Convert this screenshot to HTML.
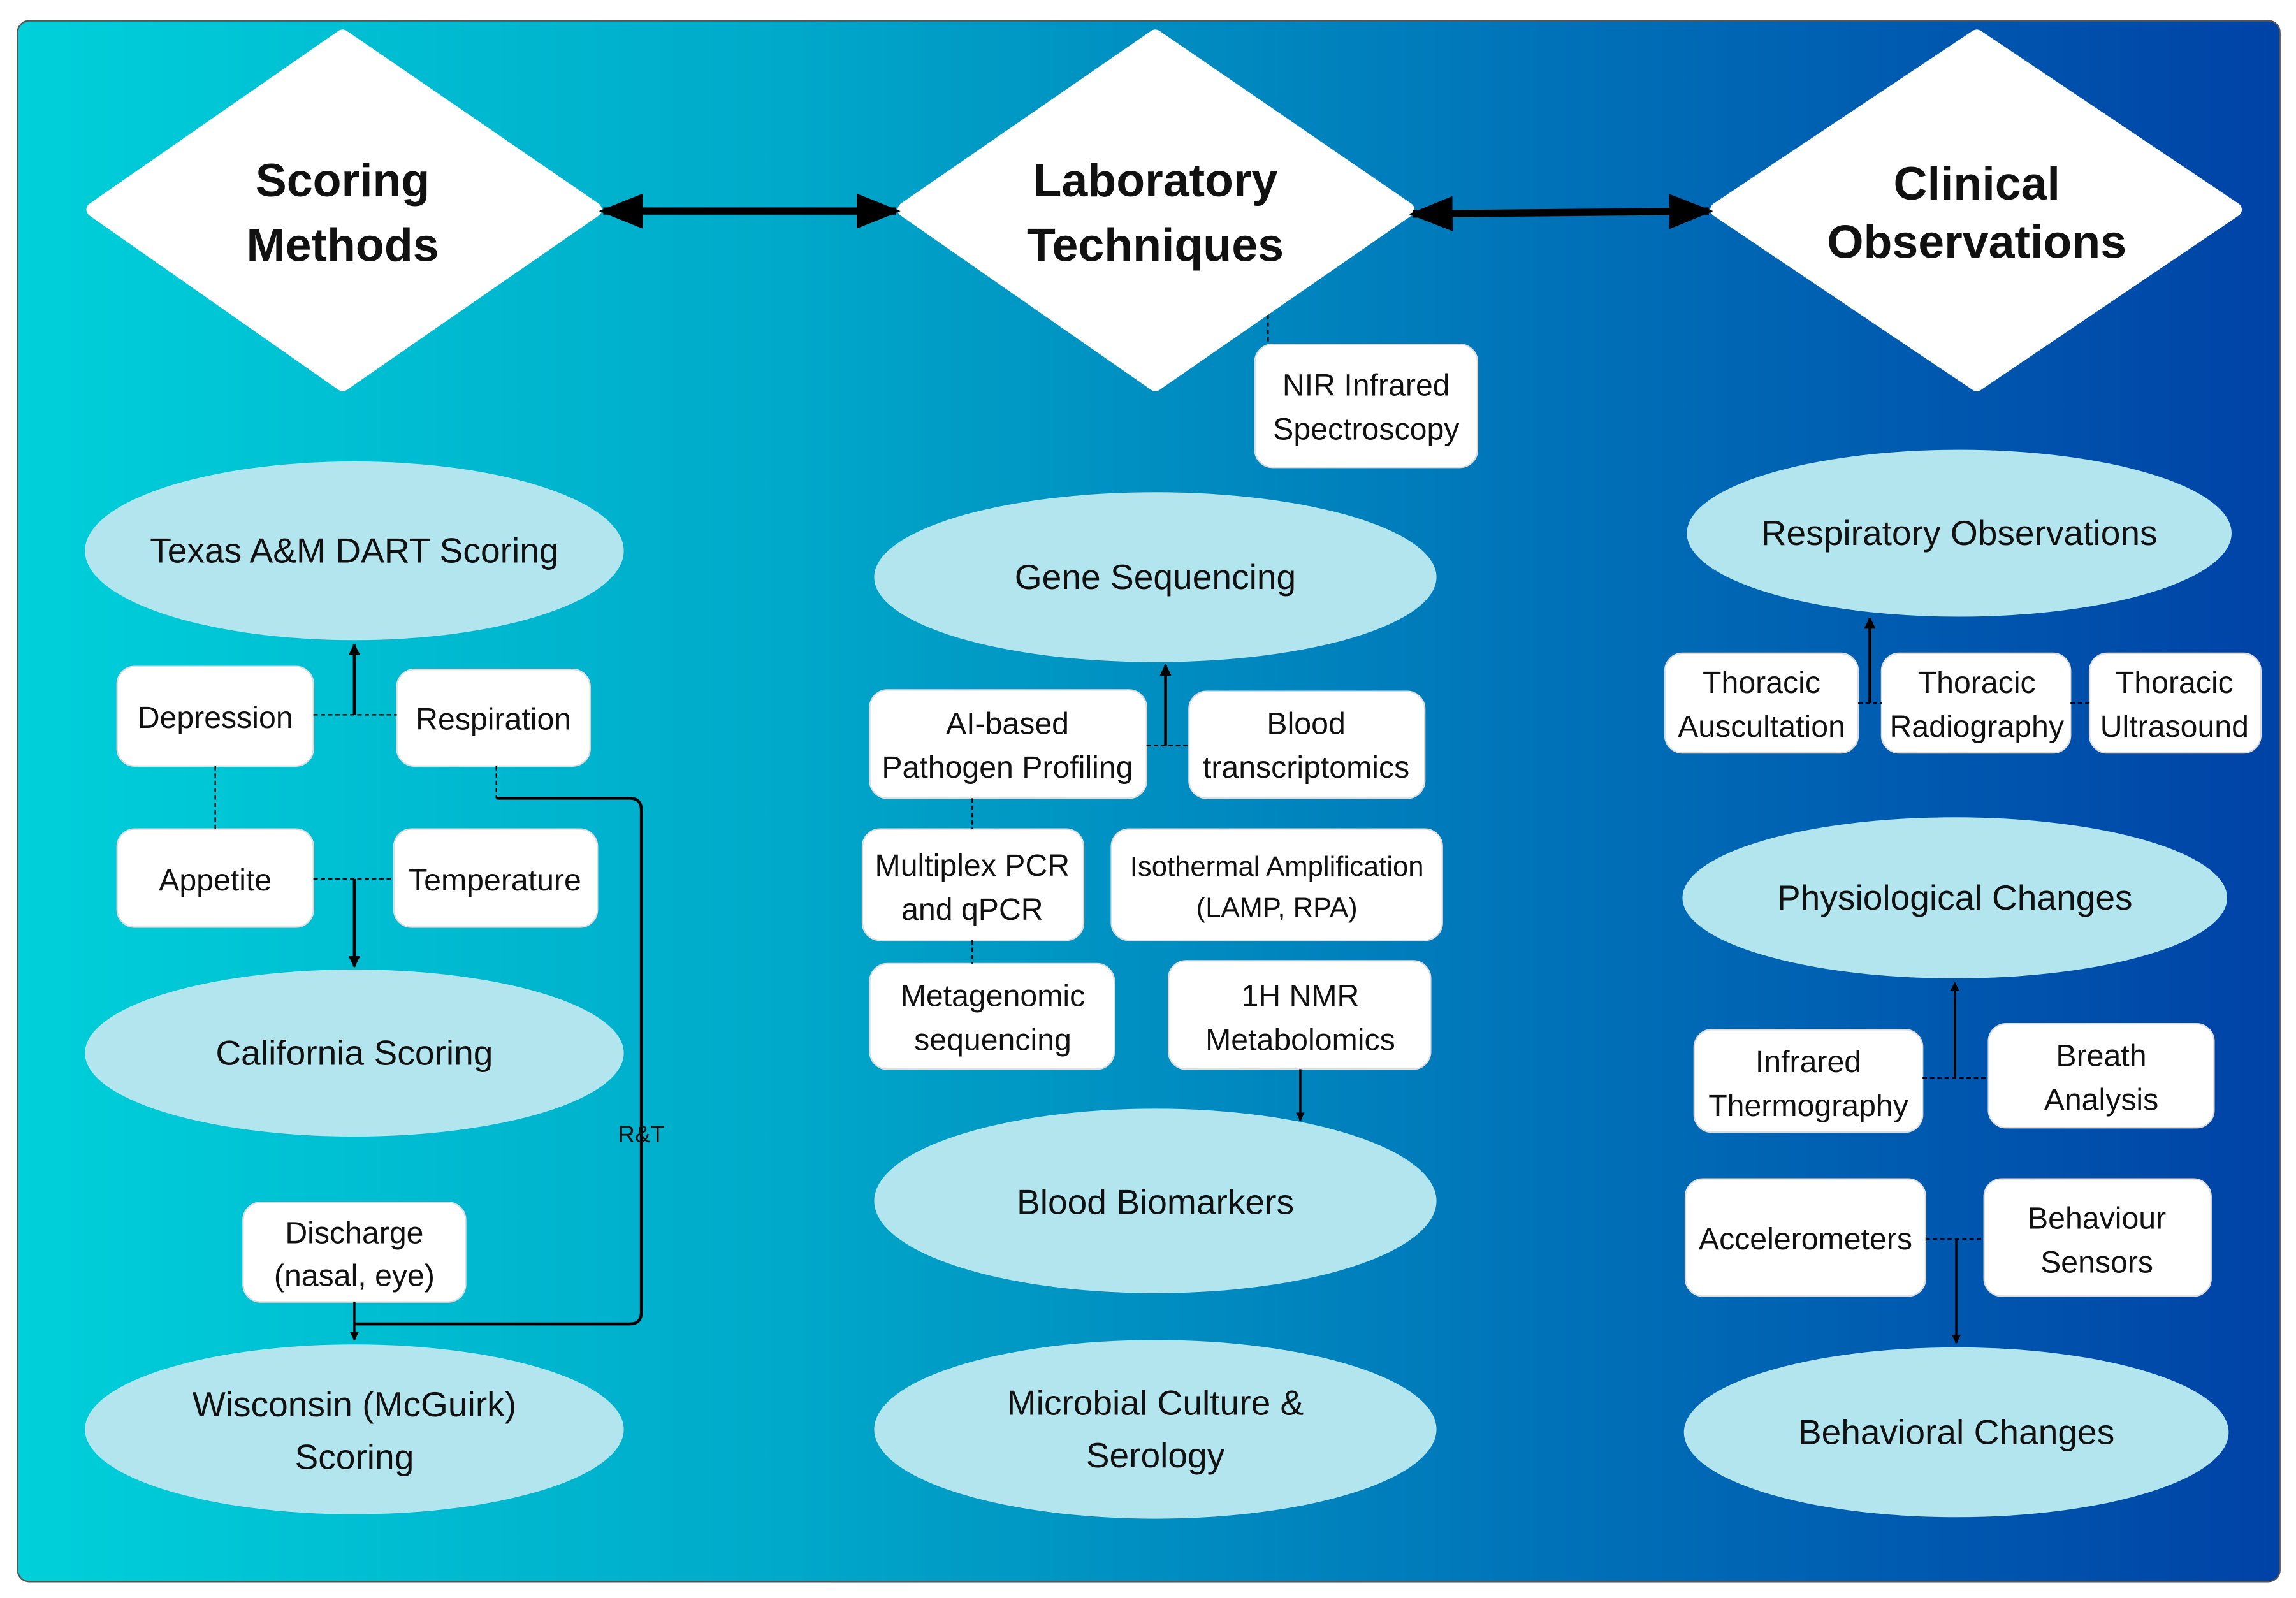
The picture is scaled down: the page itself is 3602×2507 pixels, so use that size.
<!DOCTYPE html>
<html><head><meta charset="utf-8"><style>
html,body{margin:0;padding:0;background:#fff}
svg{display:block}
text{font-family:"Liberation Sans",sans-serif;fill:#111;text-anchor:middle}
.e{font-size:24px}
.b{font-size:21px}
.t{font-size:32px;font-weight:bold}
</style></head><body>
<svg width="3602" height="2507" viewBox="0 0 1568 1091" xmlns="http://www.w3.org/2000/svg">
<defs>
<linearGradient id="g" x1="0" x2="1" y1="0" y2="0">
<stop offset="0" stop-color="#00d0da"/>
<stop offset="0.33" stop-color="#00aaca"/>
<stop offset="0.68" stop-color="#0072b8"/>
<stop offset="1" stop-color="#0042a6"/>
</linearGradient>
<marker id="a" viewBox="0 0 10 10" refX="9" refY="5" markerWidth="4" markerHeight="4" orient="auto-start-reverse"><path d="M0,0L10,5L0,10z" fill="#000"/></marker>
<marker id="s" viewBox="0 0 10 10" refX="9" refY="5" markerWidth="6" markerHeight="6" orient="auto-start-reverse"><path d="M0,1L10,5L0,9z" fill="#000"/></marker>
</defs>
<rect x="12" y="14" width="1545" height="1066" rx="8" fill="url(#g)" stroke="#555" stroke-width="1"/>
<g fill="#fff" stroke="#fff" stroke-width="10" stroke-linejoin="round">
<polygon points="234,25 406,143 234,262 64,143"/>
<polygon points="789,25 961,143 789,262 618,143"/>
<polygon points="1350,25 1526,143 1350,262 1173,143"/>
</g>
<text class="t" x="234" y="134">Scoring</text><text class="t" x="234" y="178">Methods</text>
<text class="t" x="789" y="134">Laboratory</text><text class="t" x="789" y="178">Techniques</text>
<text class="t" x="1350" y="136">Clinical</text><text class="t" x="1350" y="176">Observations</text>
<line x1="412" y1="144" x2="612" y2="144" stroke="#000" stroke-width="5" marker-start="url(#s)" marker-end="url(#s)"/>
<line x1="965" y1="146" x2="1167" y2="144" stroke="#000" stroke-width="5" marker-start="url(#s)" marker-end="url(#s)"/>
<g fill="#b3e5ef">
<ellipse cx="242" cy="376" rx="184" ry="61"/>
<ellipse cx="242" cy="719" rx="184" ry="57"/>
<ellipse cx="242" cy="976" rx="184" ry="58"/>
<ellipse cx="789" cy="394" rx="192" ry="58"/>
<ellipse cx="789" cy="820" rx="192" ry="63"/>
<ellipse cx="789" cy="976" rx="192" ry="61"/>
<ellipse cx="1338" cy="364" rx="186" ry="57"/>
<ellipse cx="1335" cy="613" rx="186" ry="55"/>
<ellipse cx="1336" cy="978" rx="186" ry="58"/>
</g>
<g class="e">
<text x="242" y="384">Texas A&amp;M DART Scoring</text>
<text x="242" y="727">California Scoring</text>
<text x="242" y="967">Wisconsin (McGuirk)</text><text x="242" y="1003">Scoring</text>
<text x="789" y="402">Gene Sequencing</text>
<text x="789" y="829">Blood Biomarkers</text>
<text x="789" y="966">Microbial Culture &amp;</text><text x="789" y="1002">Serology</text>
<text x="1338" y="372">Respiratory Observations</text>
<text x="1335" y="621">Physiological Changes</text>
<text x="1336" y="986">Behavioral Changes</text>
</g>
<g fill="#fff" stroke="#ddd" stroke-width="1">
<rect x="80" y="455" width="134" height="68" rx="12"/>
<rect x="271" y="457" width="132" height="66" rx="12"/>
<rect x="80" y="566" width="134" height="67" rx="12"/>
<rect x="269" y="566" width="139" height="67" rx="12"/>
<rect x="166" y="821" width="152" height="68" rx="12"/>
<rect x="857" y="235" width="152" height="84" rx="12"/>
<rect x="594" y="471" width="189" height="74" rx="12"/>
<rect x="812" y="472" width="161" height="73" rx="12"/>
<rect x="589" y="566" width="151" height="76" rx="12"/>
<rect x="759" y="566" width="226" height="76" rx="12"/>
<rect x="594" y="658" width="167" height="72" rx="12"/>
<rect x="798" y="656" width="179" height="74" rx="12"/>
<rect x="1137" y="446" width="132" height="68" rx="12"/>
<rect x="1285" y="446" width="129" height="68" rx="12"/>
<rect x="1427" y="446" width="117" height="68" rx="12"/>
<rect x="1157" y="703" width="156" height="70" rx="12"/>
<rect x="1358" y="699" width="154" height="71" rx="12"/>
<rect x="1151" y="805" width="164" height="80" rx="12"/>
<rect x="1355" y="805" width="155" height="80" rx="12"/>
</g>
<g class="b">
<text x="147" y="497">Depression</text>
<text x="337" y="498">Respiration</text>
<text x="147" y="608">Appetite</text>
<text x="338" y="608">Temperature</text>
<text x="242" y="849">Discharge</text><text x="242" y="878">(nasal, eye)</text>
<text x="933" y="270">NIR Infrared</text><text x="933" y="300">Spectroscopy</text>
<text x="688" y="501">AI-based</text><text x="688" y="531">Pathogen Profiling</text>
<text x="892" y="501">Blood</text><text x="892" y="531">transcriptomics</text>
<text x="664" y="598">Multiplex PCR</text><text x="664" y="628">and qPCR</text>
<text x="872" y="598" style="font-size:19px">Isothermal Amplification</text><text x="872" y="626" style="font-size:19px">(LAMP, RPA)</text>
<text x="678" y="687">Metagenomic</text><text x="678" y="717">sequencing</text>
<text x="888" y="687">1H NMR</text><text x="888" y="717">Metabolomics</text>
<text x="1203" y="473">Thoracic</text><text x="1203" y="503">Auscultation</text>
<text x="1350" y="473">Thoracic</text><text x="1350" y="503">Radiography</text>
<text x="1485" y="473">Thoracic</text><text x="1485" y="503">Ultrasound</text>
<text x="1235" y="732">Infrared</text><text x="1235" y="762">Thermography</text>
<text x="1435" y="728">Breath</text><text x="1435" y="758">Analysis</text>
<text x="1233" y="853">Accelerometers</text>
<text x="1432" y="839">Behaviour</text><text x="1432" y="869">Sensors</text>
</g>
<g stroke="#000" stroke-width="1" stroke-dasharray="3,2" fill="none">
<line x1="214" y1="488" x2="271" y2="488"/>
<line x1="147" y1="523" x2="147" y2="566"/>
<line x1="214" y1="600" x2="269" y2="600"/>
<line x1="339" y1="523" x2="339" y2="545"/>
<line x1="866" y1="215" x2="866" y2="235"/>
<line x1="783" y1="509" x2="812" y2="509"/>
<line x1="664" y1="545" x2="664" y2="566"/>
<line x1="664" y1="642" x2="664" y2="658"/>
<line x1="1269" y1="480" x2="1285" y2="480"/>
<line x1="1414" y1="480" x2="1427" y2="480"/>
<line x1="1313" y1="736" x2="1358" y2="736"/>
<line x1="1315" y1="846" x2="1355" y2="846"/>
</g>
<g stroke="#000" stroke-width="2" fill="none">
<line x1="242" y1="488" x2="242" y2="440" marker-end="url(#a)"/>
<line x1="242" y1="600" x2="242" y2="660" marker-end="url(#a)"/>
<path d="M339,545H430Q438,545 438,553V896Q438,904 430,904H242"/>
<line x1="242" y1="889" x2="242" y2="915" stroke-width="1.5" marker-end="url(#a)"/>
<line x1="796" y1="509" x2="796" y2="454" marker-end="url(#a)"/>
<line x1="888" y1="730" x2="888" y2="765" stroke-width="1.5" marker-end="url(#a)"/>
<line x1="1277" y1="480" x2="1277" y2="422" marker-end="url(#a)"/>
<line x1="1335" y1="736" x2="1335" y2="671" stroke-width="1.5" marker-end="url(#a)"/>
<line x1="1336" y1="846" x2="1336" y2="917" stroke-width="1.5" marker-end="url(#a)"/>
</g>
<text x="438" y="780" style="font-size:16px">R&amp;T</text>
</svg>
</body></html>
